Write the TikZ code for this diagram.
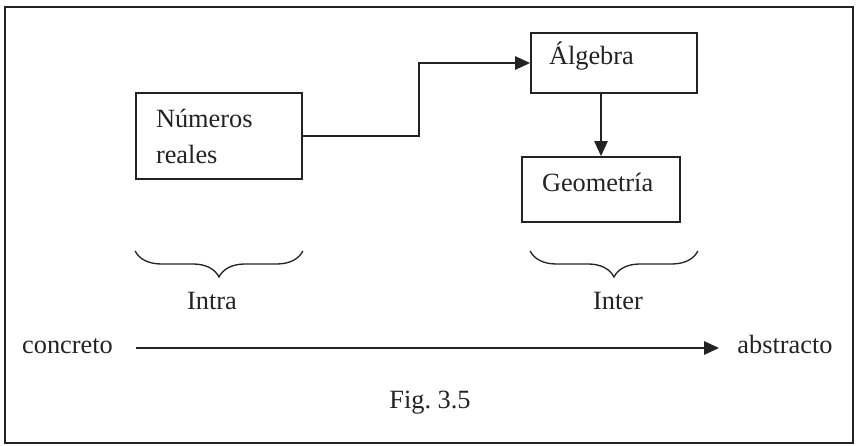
\documentclass[tikz,border=0pt]{standalone}
\usepackage{fontspec}
\setmainfont{Liberation Serif}
\usetikzlibrary{arrows.meta,positioning,calc,decorations.pathreplacing}
\definecolor{ink}{RGB}{35,35,35}
\tikzset{
  fig_box/.style={rectangle,draw=ink,line width=1pt,align=left,
    font=\fontsize{15}{20.5}\selectfont,text=ink},
  fig_one/.style={fig_box,text height=0.4cm,text depth=0.32cm},
  fig_lbl/.style={font=\fontsize{15}{20.5}\selectfont,text=ink,inner sep=0pt},
  arr/.style={-{Triangle[length=8.5pt,width=7.5pt]},line width=1.1pt,draw=ink},
  brc/.style={decorate,decoration={brace,amplitude=0.52cm},line width=0.75pt,draw=ink},
}

\begin{document}
\begin{tikzpicture}[x=0.02cm,y=0.02cm]
  \useasboundingbox (0,0) rectangle (856,446);
  % outer frame
  \draw[ink,line width=1.6pt] (5,3) rectangle (853,439);

  % --- Boxes ---
  \node (nums) [fig_box,text width=2.52cm,inner xsep=0.4cm,minimum height=1.72cm]
    at (219,310) {Números\\reales};
  \node (alg)  [fig_one,text width=2.6cm,inner xsep=0.36cm,minimum height=1.2cm]
    at (614,383) {Álgebra};
  \node (geo)  [fig_one,text width=2.36cm,inner xsep=0.4cm,minimum height=1.3cm]
    at (601,256.5) {Geometría};

  % --- Connectors between boxes ---
  \draw[arr] (nums.east) -- ++(116,0) |- (alg.west);
  \draw[arr] (alg.south -| geo.north) -- (geo.north);

  % --- Braces and their labels ---
  \coordinate (bry) at (0,195);
  \draw[brc] (nums.east |- bry) -- (nums.west |- bry);
  \draw[brc] (alg.east |- bry) -- (alg.west |- bry);
  \node (intra) [fig_lbl,anchor=base] at (212,136) {Intra};
  \node (inter) [fig_lbl,anchor=base] at (618,136) {Inter};

  % --- Concrete to abstract axis ---
  \node (conc) [fig_lbl,inner xsep=0.46cm,text height=1.4ex,text depth=0pt]
    at (67.5,98) {concreto};
  \node (abst) [fig_lbl,inner xsep=0.36cm,text height=1.4ex,text depth=0pt]
    at (785,98) {abstracto};
  \draw[arr] (conc) -- (abst);

  % caption
  \node (cap) [fig_lbl,anchor=base] at (430,37) {Fig.\ 3.5};
\end{tikzpicture}
\end{document}
